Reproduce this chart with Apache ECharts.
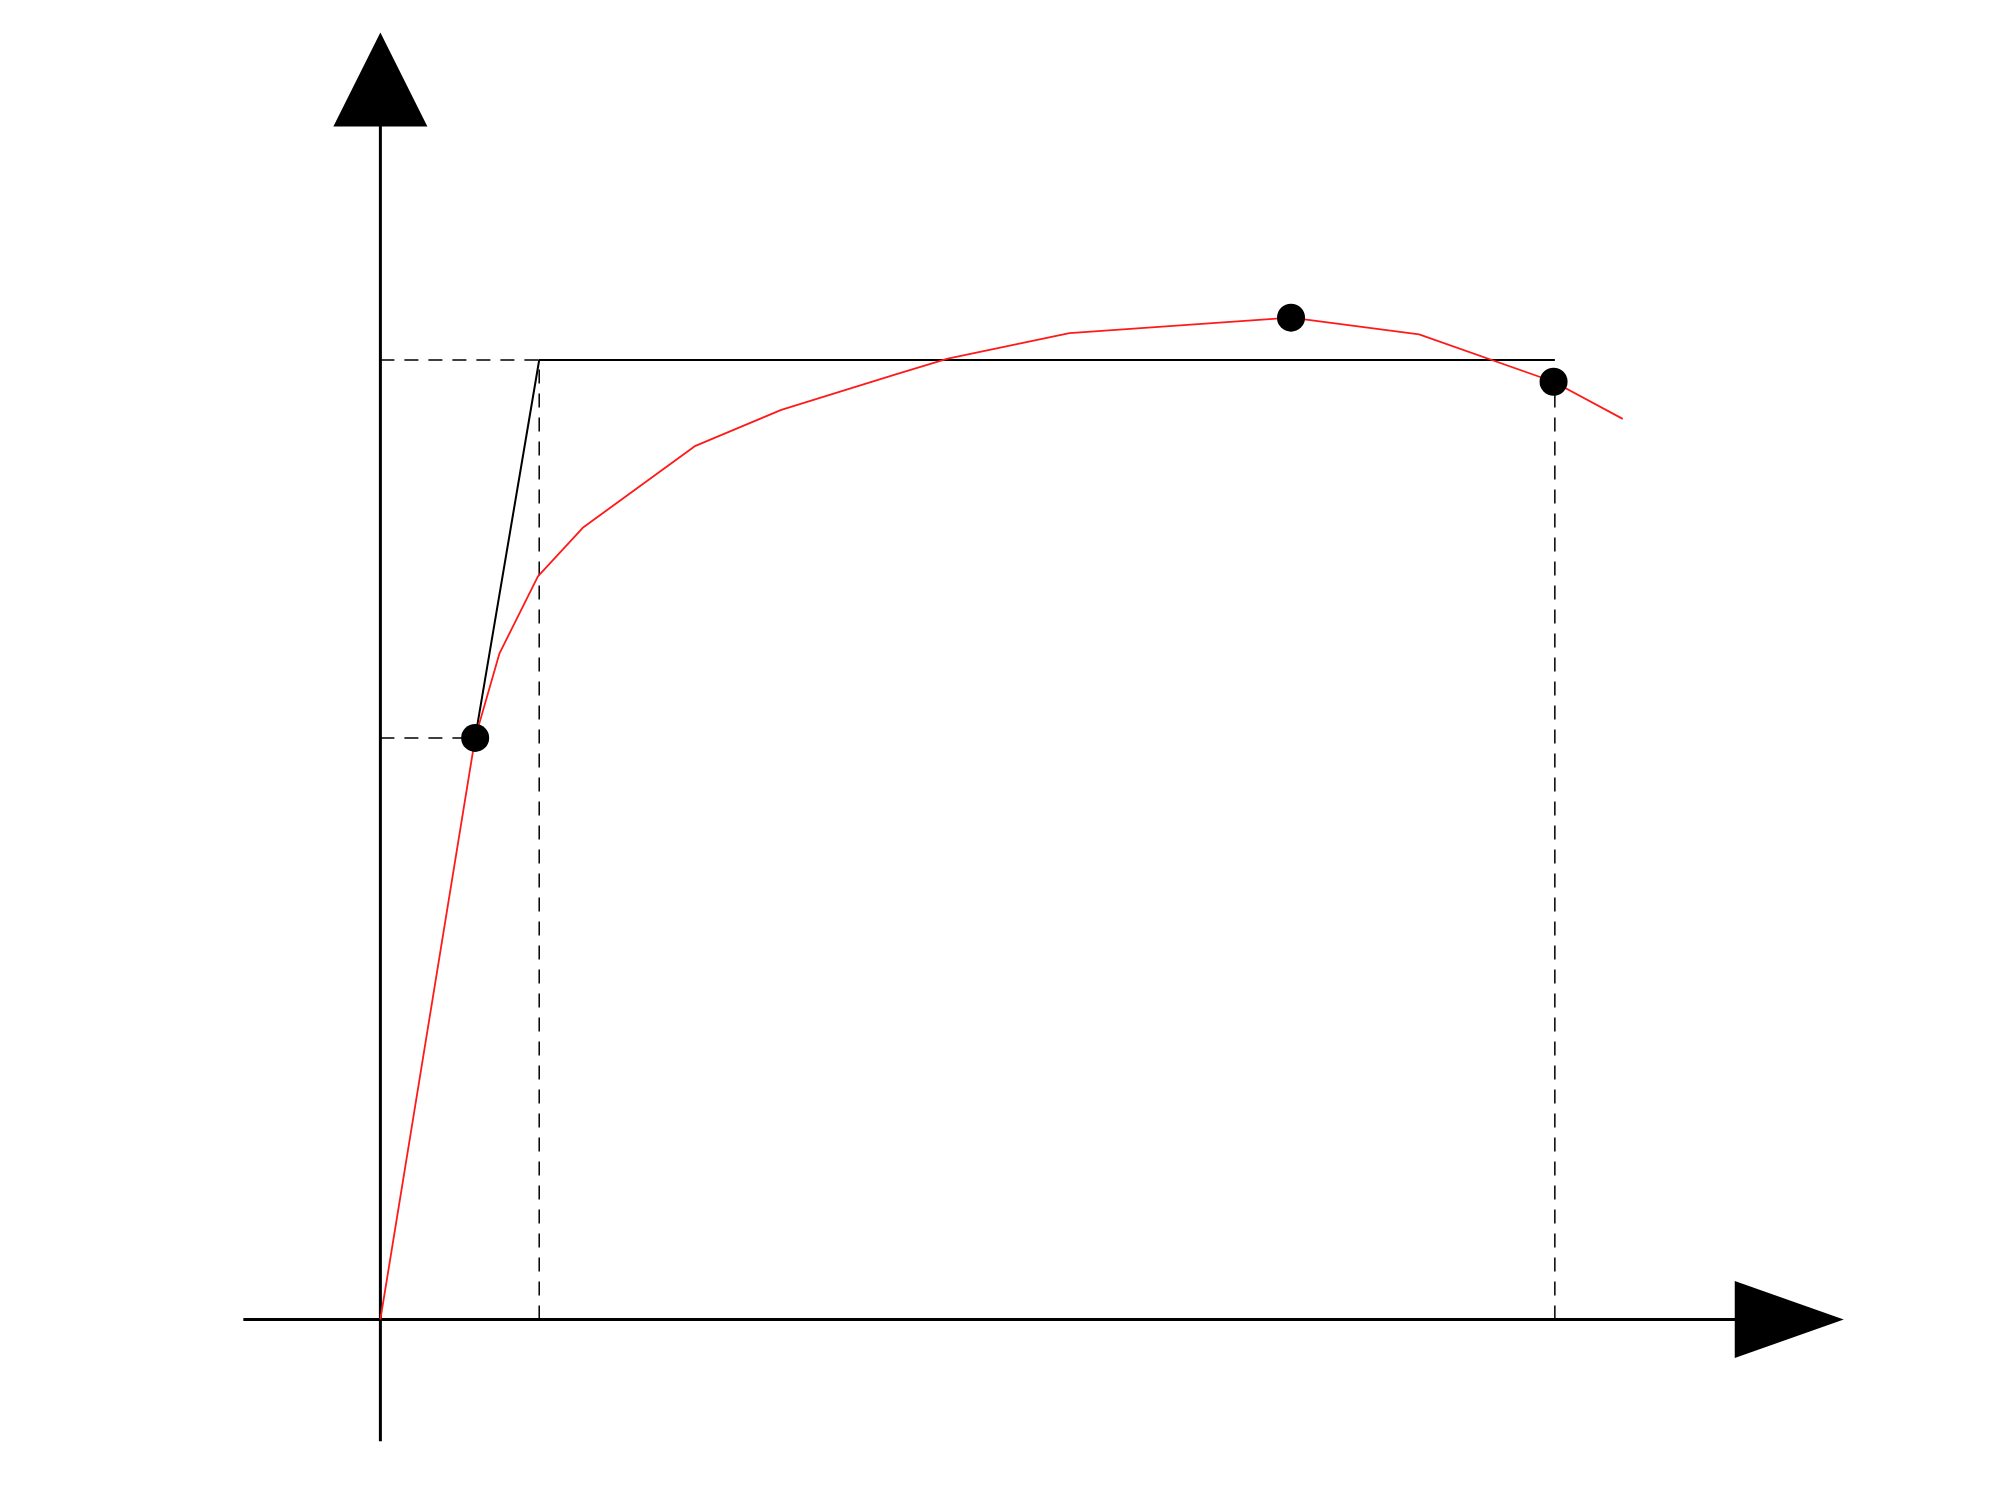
<!DOCTYPE html>
<html><head><meta charset="utf-8">
<script src="https://cdn.jsdelivr.net/npm/echarts@6/dist/echarts.min.js"></script>
<style>html,body{margin:0;background:#fff}#c{width:1998px;height:1486px}</style>
</head><body><div id="c"></div>
<script>
// load-displacement curve (schematic units)
var curve = [[0,0],[74,454],[93,520],[123,580],[158,618],[246,682],[313,710],[403,738],[443,750],[538,770],[711,782],[811,769],[916,732],[970,703]];
var bilinear = [[74,454],[124,749],[917,749]];
var keyPoints = [[74,454],[711,782],[916,732]];
var Py = 749, P04 = 454, P08 = 732, dy = 124, du = 917;
var labels = [
  {value:[-167,942], text:'{t|Load}'},
  {value:[718,870], text:'{t|P}{s|u}'},
  {value:[-67,760], text:'{t|P}{s|y}'},
  {value:[1148,730], text:'{t|0.8P}{s|u}'},
  {value:[-137,460], text:'{t|0.4P}{s|u}'},
  {value:[143,-50], text:'{t|Δ}{s|y}'},
  {value:[518,-50], text:'{t|Displacement}'},
  {value:[931,-50], text:'{t|Δ}{s|u}'},
  {value:[1131,-50], text:'{t|Δ}'}
];

var chart = echarts.init(document.getElementById('c'));
var dash = {color:'#000', width:1.5, type:[14,10]};
var rich = {
  t:{fontFamily:'Liberation Sans', fontStyle:'italic', fontSize:92, color:'#000'},
  s:{fontFamily:'Liberation Sans', fontStyle:'italic', fontSize:70, color:'#000', padding:[50,0,0,0]}
};
function seg(data, style){
  return {type:'line', data:data, symbol:'none', lineStyle:style, silent:true, z:2};
}
chart.setOption({
  animation:false,
  grid:{left:0,right:0,top:0,bottom:0},
  xAxis:{type:'value', min:-297, max:1263, show:false},
  yAxis:{type:'value', min:-130, max:1030, show:false},
  series:[
    seg([[-107,0],[1070,0]], {color:'#000', width:3}),
    seg([[0,-95],[0,950]], {color:'#000', width:3}),
    seg([[0,Py],[dy,Py]], dash),
    seg([[0,P04],[74,P04]], dash),
    seg([[dy,0],[dy,Py]], dash),
    seg([[du,0],[du,P08]], dash),
    seg(bilinear, {color:'#000', width:2}),
    {type:'line', data:curve, symbol:'none', lineStyle:{color:'#ff1a1a', width:1.8}, z:3},
    {type:'scatter', data:keyPoints, symbol:'circle', symbolSize:28, itemStyle:{color:'#000', opacity:1}, z:4},
    {type:'scatter', data:[{value:[1100,0], symbolRotate:-90, symbolSize:[77,109]},
                           {value:[0,968], symbolRotate:0, symbolSize:[94,94]}],
     symbol:'triangle', itemStyle:{color:'#000', opacity:1}, z:5},
    {type:'scatter', data:labels.map(function(l){return {value:l.value, label:{formatter:l.text}};}),
     symbol:'circle', symbolSize:1, itemStyle:{opacity:0},
     label:{show:true, position:'inside', rich:rich}, z:6}
  ]
});
</script></body></html>
